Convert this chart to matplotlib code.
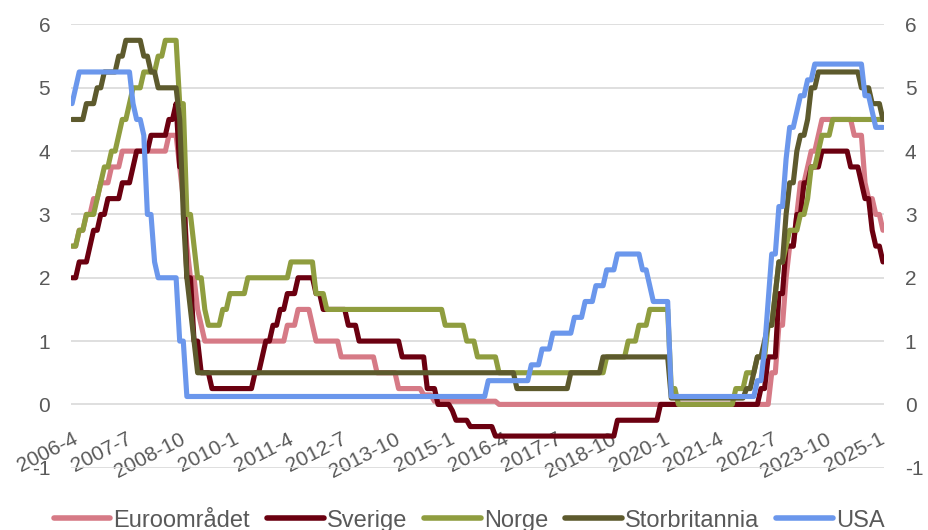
import matplotlib
matplotlib.use("Agg")
import matplotlib.pyplot as plt
import numpy as np
import pandas as pd

plt.rcParams["font.family"] = ["Liberation Sans", "DejaVu Sans"]
plt.rcParams["axes.unicode_minus"] = False

# Monthly policy rates, end of month, 2006-04 .. 2025-02
months = pd.period_range("2006-04", "2025-02", freq="M")

euro = [
    2.5, 2.5, 2.75, 2.75, 3.0, 3.0, 3.25, 3.25, 3.5,                      # 2006
    3.5, 3.5, 3.75, 3.75, 3.75, 4.0, 4.0, 4.0, 4.0, 4.0, 4.0, 4.0,         # 2007
    4.0, 4.0, 4.0, 4.0, 4.0, 4.0, 4.25, 4.25, 4.25, 3.75, 3.25, 2.5,       # 2008
    2.0, 2.0, 1.5, 1.25, 1.0, 1.0, 1.0, 1.0, 1.0, 1.0, 1.0, 1.0,           # 2009
    1.0, 1.0, 1.0, 1.0, 1.0, 1.0, 1.0, 1.0, 1.0, 1.0, 1.0, 1.0,            # 2010
    1.0, 1.0, 1.0, 1.25, 1.25, 1.25, 1.5, 1.5, 1.5, 1.5, 1.25, 1.0,        # 2011
    1.0, 1.0, 1.0, 1.0, 1.0, 1.0, 0.75, 0.75, 0.75, 0.75, 0.75, 0.75,      # 2012
    0.75, 0.75, 0.75, 0.75, 0.5, 0.5, 0.5, 0.5, 0.5, 0.5, 0.25, 0.25,      # 2013
    0.25, 0.25, 0.25, 0.25, 0.25, 0.15, 0.15, 0.15, 0.05, 0.05, 0.05, 0.05,  # 2014
    0.05, 0.05, 0.05, 0.05, 0.05, 0.05, 0.05, 0.05, 0.05, 0.05, 0.05, 0.05,  # 2015
    0.05, 0.05, 0, 0, 0, 0, 0, 0, 0, 0, 0, 0,                              # 2016
    0, 0, 0, 0, 0, 0, 0, 0, 0, 0, 0, 0,                                    # 2017
    0, 0, 0, 0, 0, 0, 0, 0, 0, 0, 0, 0,                                    # 2018
    0, 0, 0, 0, 0, 0, 0, 0, 0, 0, 0, 0,                                    # 2019
    0, 0, 0, 0, 0, 0, 0, 0, 0, 0, 0, 0,                                    # 2020
    0, 0, 0, 0, 0, 0, 0, 0, 0, 0, 0, 0,                                    # 2021
    0, 0, 0, 0, 0, 0, 0.5, 0.5, 1.25, 1.25, 2.0, 2.5,                      # 2022
    2.5, 3.0, 3.5, 3.5, 3.75, 4.0, 4.0, 4.25, 4.5, 4.5, 4.5, 4.5,          # 2023
    4.5, 4.5, 4.5, 4.5, 4.5, 4.25, 4.25, 4.25, 3.5, 3.25, 3.25, 3.0,       # 2024
    3.0, 2.75,                                                             # 2025
]

sverige = [
    2.0, 2.0, 2.25, 2.25, 2.25, 2.5, 2.75, 2.75, 3.0,
    3.0, 3.25, 3.25, 3.25, 3.25, 3.5, 3.5, 3.5, 3.75, 4.0, 4.0, 4.0,
    4.0, 4.25, 4.25, 4.25, 4.25, 4.25, 4.5, 4.5, 4.75, 3.75, 3.75, 2.0,
    2.0, 1.0, 1.0, 0.5, 0.5, 0.5, 0.25, 0.25, 0.25, 0.25, 0.25, 0.25,
    0.25, 0.25, 0.25, 0.25, 0.25, 0.25, 0.5, 0.5, 0.75, 1.0, 1.0, 1.25,
    1.25, 1.5, 1.5, 1.75, 1.75, 1.75, 2.0, 2.0, 2.0, 2.0, 2.0, 1.75,
    1.75, 1.5, 1.5, 1.5, 1.5, 1.5, 1.5, 1.5, 1.25, 1.25, 1.25, 1.0,
    1.0, 1.0, 1.0, 1.0, 1.0, 1.0, 1.0, 1.0, 1.0, 1.0, 1.0, 0.75,
    0.75, 0.75, 0.75, 0.75, 0.75, 0.75, 0.25, 0.25, 0.25, 0.0, 0.0, 0.0,
    0.0, -0.1, -0.25, -0.25, -0.25, -0.25, -0.35, -0.35, -0.35, -0.35, -0.35, -0.35,
    -0.35, -0.5, -0.5, -0.5, -0.5, -0.5, -0.5, -0.5, -0.5, -0.5, -0.5, -0.5,
    -0.5, -0.5, -0.5, -0.5, -0.5, -0.5, -0.5, -0.5, -0.5, -0.5, -0.5, -0.5,
    -0.5, -0.5, -0.5, -0.5, -0.5, -0.5, -0.5, -0.5, -0.5, -0.5, -0.5, -0.25,
    -0.25, -0.25, -0.25, -0.25, -0.25, -0.25, -0.25, -0.25, -0.25, -0.25, -0.25, 0.0,
    0, 0, 0, 0, 0, 0, 0, 0, 0, 0, 0, 0,
    0, 0, 0, 0, 0, 0, 0, 0, 0, 0, 0, 0,
    0, 0, 0, 0.25, 0.25, 0.75, 0.75, 0.75, 1.75, 1.75, 2.5, 2.5,
    2.5, 3.0, 3.0, 3.5, 3.5, 3.75, 3.75, 3.75, 4.0, 4.0, 4.0, 4.0,
    4.0, 4.0, 4.0, 4.0, 3.75, 3.75, 3.75, 3.5, 3.25, 3.25, 2.75, 2.5,
    2.5, 2.25,
]

norge = [
    2.5, 2.5, 2.75, 2.75, 3.0, 3.0, 3.0, 3.25, 3.5,
    3.75, 3.75, 4.0, 4.0, 4.25, 4.5, 4.5, 4.75, 5.0, 5.0, 5.0, 5.25,
    5.25, 5.25, 5.25, 5.5, 5.5, 5.75, 5.75, 5.75, 5.75, 4.75, 4.75, 3.0,
    3.0, 2.5, 2.0, 2.0, 1.5, 1.25, 1.25, 1.25, 1.25, 1.5, 1.5, 1.75,
    1.75, 1.75, 1.75, 1.75, 2.0, 2.0, 2.0, 2.0, 2.0, 2.0, 2.0, 2.0,
    2.0, 2.0, 2.0, 2.0, 2.25, 2.25, 2.25, 2.25, 2.25, 2.25, 2.25, 1.75,
    1.75, 1.75, 1.5, 1.5, 1.5, 1.5, 1.5, 1.5, 1.5, 1.5, 1.5, 1.5,
    1.5, 1.5, 1.5, 1.5, 1.5, 1.5, 1.5, 1.5, 1.5, 1.5, 1.5, 1.5,
    1.5, 1.5, 1.5, 1.5, 1.5, 1.5, 1.5, 1.5, 1.5, 1.5, 1.5, 1.25,
    1.25, 1.25, 1.25, 1.25, 1.25, 1.0, 1.0, 1.0, 0.75, 0.75, 0.75, 0.75,
    0.75, 0.75, 0.5, 0.5, 0.5, 0.5, 0.5, 0.5, 0.5, 0.5, 0.5, 0.5,
    0.5, 0.5, 0.5, 0.5, 0.5, 0.5, 0.5, 0.5, 0.5, 0.5, 0.5, 0.5,
    0.5, 0.5, 0.5, 0.5, 0.5, 0.5, 0.5, 0.5, 0.75, 0.75, 0.75, 0.75,
    0.75, 0.75, 1.0, 1.0, 1.0, 1.25, 1.25, 1.25, 1.5, 1.5, 1.5, 1.5,
    1.5, 1.5, 0.25, 0.25, 0.0, 0.0, 0.0, 0.0, 0.0, 0.0, 0.0, 0.0,
    0.0, 0.0, 0.0, 0.0, 0.0, 0.0, 0.0, 0.0, 0.25, 0.25, 0.25, 0.5,
    0.5, 0.5, 0.75, 0.75, 0.75, 1.25, 1.25, 1.75, 2.25, 2.25, 2.5, 2.75,
    2.75, 2.75, 3.0, 3.0, 3.25, 3.75, 3.75, 4.0, 4.25, 4.25, 4.25, 4.5,
    4.5, 4.5, 4.5, 4.5, 4.5, 4.5, 4.5, 4.5, 4.5, 4.5, 4.5, 4.5,
    4.5, 4.5,
]

storbritannia = [
    4.5, 4.5, 4.5, 4.5, 4.75, 4.75, 4.75, 5.0, 5.0,
    5.25, 5.25, 5.25, 5.25, 5.5, 5.5, 5.75, 5.75, 5.75, 5.75, 5.75, 5.5,
    5.5, 5.25, 5.25, 5.0, 5.0, 5.0, 5.0, 5.0, 5.0, 4.5, 3.0, 2.0,
    1.5, 1.0, 0.5, 0.5, 0.5, 0.5, 0.5, 0.5, 0.5, 0.5, 0.5, 0.5,
    0.5, 0.5, 0.5, 0.5, 0.5, 0.5, 0.5, 0.5, 0.5, 0.5, 0.5, 0.5,
    0.5, 0.5, 0.5, 0.5, 0.5, 0.5, 0.5, 0.5, 0.5, 0.5, 0.5, 0.5,
    0.5, 0.5, 0.5, 0.5, 0.5, 0.5, 0.5, 0.5, 0.5, 0.5, 0.5, 0.5,
    0.5, 0.5, 0.5, 0.5, 0.5, 0.5, 0.5, 0.5, 0.5, 0.5, 0.5, 0.5,
    0.5, 0.5, 0.5, 0.5, 0.5, 0.5, 0.5, 0.5, 0.5, 0.5, 0.5, 0.5,
    0.5, 0.5, 0.5, 0.5, 0.5, 0.5, 0.5, 0.5, 0.5, 0.5, 0.5, 0.5,
    0.5, 0.5, 0.5, 0.5, 0.5, 0.5, 0.5, 0.25, 0.25, 0.25, 0.25, 0.25,
    0.25, 0.25, 0.25, 0.25, 0.25, 0.25, 0.25, 0.25, 0.25, 0.25, 0.5, 0.5,
    0.5, 0.5, 0.5, 0.5, 0.5, 0.5, 0.5, 0.75, 0.75, 0.75, 0.75, 0.75,
    0.75, 0.75, 0.75, 0.75, 0.75, 0.75, 0.75, 0.75, 0.75, 0.75, 0.75, 0.75,
    0.75, 0.75, 0.1, 0.1, 0.1, 0.1, 0.1, 0.1, 0.1, 0.1, 0.1, 0.1,
    0.1, 0.1, 0.1, 0.1, 0.1, 0.1, 0.1, 0.1, 0.1, 0.1, 0.1, 0.25,
    0.25, 0.5, 0.75, 0.75, 1.0, 1.25, 1.25, 1.75, 2.25, 2.25, 3.0, 3.5,
    3.5, 4.0, 4.25, 4.25, 4.5, 5.0, 5.0, 5.25, 5.25, 5.25, 5.25, 5.25,
    5.25, 5.25, 5.25, 5.25, 5.25, 5.25, 5.25, 5.0, 5.0, 5.0, 4.75, 4.75,
    4.75, 4.5,
]

usa = [
    4.75, 5.0, 5.25, 5.25, 5.25, 5.25, 5.25, 5.25, 5.25,
    5.25, 5.25, 5.25, 5.25, 5.25, 5.25, 5.25, 5.25, 4.75, 4.5, 4.5, 4.25,
    3.0, 3.0, 2.25, 2.0, 2.0, 2.0, 2.0, 2.0, 2.0, 1.0, 1.0, 0.125,
    0.125, 0.125, 0.125, 0.125, 0.125, 0.125, 0.125, 0.125, 0.125, 0.125, 0.125, 0.125,
    0.125, 0.125, 0.125, 0.125, 0.125, 0.125, 0.125, 0.125, 0.125, 0.125, 0.125, 0.125,
    0.125, 0.125, 0.125, 0.125, 0.125, 0.125, 0.125, 0.125, 0.125, 0.125, 0.125, 0.125,
    0.125, 0.125, 0.125, 0.125, 0.125, 0.125, 0.125, 0.125, 0.125, 0.125, 0.125, 0.125,
    0.125, 0.125, 0.125, 0.125, 0.125, 0.125, 0.125, 0.125, 0.125, 0.125, 0.125, 0.125,
    0.125, 0.125, 0.125, 0.125, 0.125, 0.125, 0.125, 0.125, 0.125, 0.125, 0.125, 0.125,
    0.125, 0.125, 0.125, 0.125, 0.125, 0.125, 0.125, 0.125, 0.125, 0.125, 0.125, 0.375,
    0.375, 0.375, 0.375, 0.375, 0.375, 0.375, 0.375, 0.375, 0.375, 0.375, 0.375, 0.625,
    0.625, 0.625, 0.875, 0.875, 0.875, 1.125, 1.125, 1.125, 1.125, 1.125, 1.125, 1.375,
    1.375, 1.375, 1.625, 1.625, 1.625, 1.875, 1.875, 1.875, 2.125, 2.125, 2.125, 2.375,
    2.375, 2.375, 2.375, 2.375, 2.375, 2.375, 2.125, 2.125, 1.875, 1.625, 1.625, 1.625,
    1.625, 1.625, 0.125, 0.125, 0.125, 0.125, 0.125, 0.125, 0.125, 0.125, 0.125, 0.125,
    0.125, 0.125, 0.125, 0.125, 0.125, 0.125, 0.125, 0.125, 0.125, 0.125, 0.125, 0.125,
    0.125, 0.125, 0.375, 0.375, 0.875, 1.625, 2.375, 2.375, 3.125, 3.125, 3.875, 4.375,
    4.375, 4.625, 4.875, 4.875, 5.125, 5.125, 5.375, 5.375, 5.375, 5.375, 5.375, 5.375,
    5.375, 5.375, 5.375, 5.375, 5.375, 5.375, 5.375, 5.375, 4.875, 4.875, 4.625, 4.375,
    4.375, 4.375,
]

series = [
    ("Euroområdet", euro, "#D67A86"),
    ("Sverige", sverige, "#6B0010"),
    ("Norge", norge, "#8F9D3F"),
    ("Storbritannia", storbritannia, "#5D5A2D"),
    ("USA", usa, "#6B97EC"),
]

text_color = "#595959"
x = np.arange(len(months))

fig = plt.figure(figsize=(9.29, 5.30), dpi=100)
ax = fig.add_axes([0.0764, 0.1175, 0.8752, 0.8363])

for name, values, col in series:
    ax.plot(x, values, color=col, lw=3.7, label=name,
            solid_joinstyle="round", solid_capstyle="round")

ax.set_xlim(-0.3, len(x) - 0.7)
ax.set_ylim(-1, 6)
ax.set_yticks(range(-1, 7))
ax.grid(axis="y", color="#D9D9D9", lw=1.2)
ax.set_axisbelow(True)
for side in ["left", "right", "top"]:
    ax.spines[side].set_visible(False)
ax.spines["bottom"].set_position(("data", 0))
ax.spines["bottom"].set_visible(False)

ax.tick_params(axis="y", length=0, pad=15, labelsize=15, labelcolor=text_color,
               labelleft=True, labelright=True)

tick_pos = x[::15]
tick_labels = [f"{m.year}-{m.month}" for m in months[::15]]
ax.set_xticks(tick_pos)
ax.set_xticklabels(tick_labels, rotation=27, ha="right", va="top",
                   rotation_mode="anchor")
ax.tick_params(axis="x", length=0, pad=18, labelsize=15, labelcolor=text_color)

leg = fig.legend(loc="lower center", bbox_to_anchor=(0.505, -0.03), ncol=5,
                 frameon=False, fontsize=17, labelcolor=text_color,
                 handlelength=2.4, handletextpad=0.13, columnspacing=0.72,
                 borderpad=0.1)
for line in leg.get_lines():
    line.set_linewidth(4)
    line.set_solid_capstyle("round")

fig.savefig("out.png", dpi=100)
